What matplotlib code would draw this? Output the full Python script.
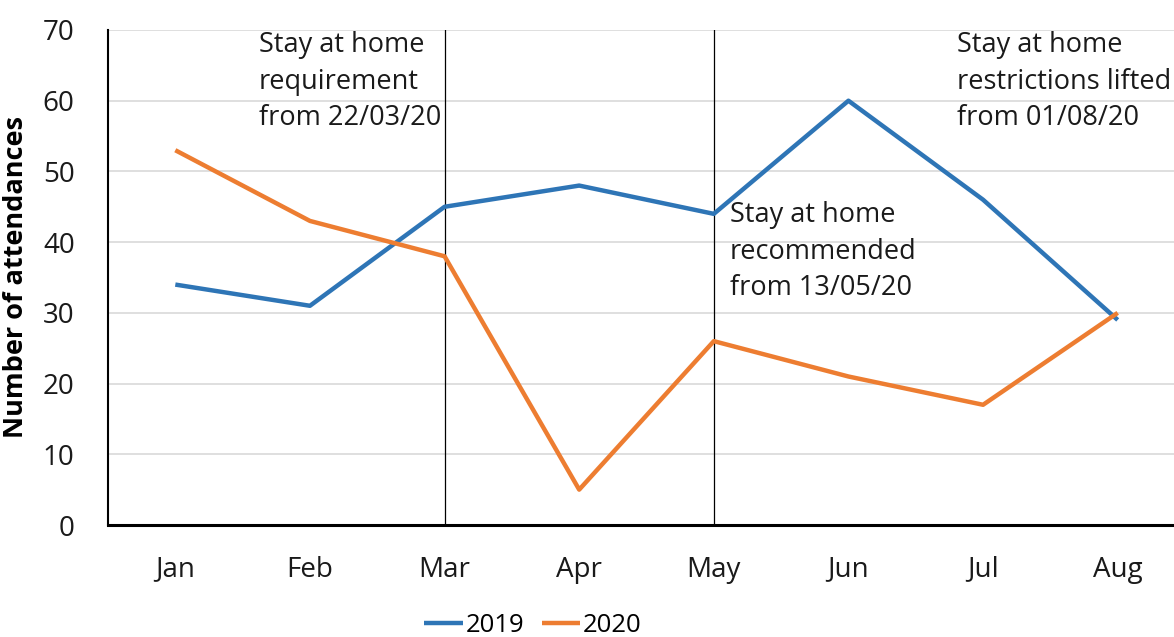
import matplotlib
matplotlib.use("Agg")
import matplotlib.pyplot as plt

plt.rcParams['font.family'] = ['Open Sans', 'DejaVu Sans']

months = ["Jan", "Feb", "Mar", "Apr", "May", "Jun", "Jul", "Aug"]
att_2019 = [34, 31, 45, 48, 44, 60, 46, 29]
att_2020 = [53, 43, 38, 5, 26, 21, 17, 30]
events = ["Mar", "May"]
notes = [
    ("Stay at home\nrequirement\nfrom 22/03/20", 0.62, 69.8),
    ("Stay at home\nrecommended\nfrom 13/05/20", 4.12, 45.8),
    ("Stay at home\nrestrictions lifted\nfrom 01/08/20", 5.81, 69.8),
]

W, H = 1174, 637
fig = plt.figure(figsize=(W / 100, H / 100), dpi=100)
ax = fig.add_axes([108 / W, 1 - 525 / H, (1185 - 108) / W, (525 - 30) / H])

x = list(range(len(months)))
l1, = ax.plot(x, att_2019, color="#2e75b6", lw=3.2, solid_capstyle="butt", label="2019")
l2, = ax.plot(x, att_2020, color="#ed7d31", lw=3.2, solid_capstyle="butt", label="2020")

for ev in events:
    ax.axvline(months.index(ev), color="black", lw=0.9, zorder=1)

for txt, tx, ty in notes:
    ax.text(tx, ty, txt, fontsize=19.5, va="top", ha="left", linespacing=1.4, color="#1a1a1a")

ax.set_xlim(-0.5, len(months) - 0.5)
ax.set_ylim(0, 70)
ax.set_yticks(range(0, 71, 10))
ax.set_xticks(x)
ax.set_xticklabels(months)
ax.grid(axis="y", color="#d9d9d9", lw=1.2)
ax.set_axisbelow(True)
ax.tick_params(axis="both", length=0, labelsize=20, colors="#1a1a1a")
ax.tick_params(axis="y", pad=24)
ax.tick_params(axis="x", pad=22)
for s in ["top", "right"]:
    ax.spines[s].set_visible(False)
ax.spines["left"].set_linewidth(1.5)
ax.spines["bottom"].set_linewidth(2.2)
ax.set_ylabel("Number of attendances", fontsize=19.5, fontweight="bold", labelpad=10)

fig.legend(handles=[l1, l2], loc="center", bbox_to_anchor=(533 / W, 1 - 625 / H),
           ncol=2, frameon=False, fontsize=18.5, handlelength=1.5, handletextpad=0.1,
           columnspacing=0.7)

fig.savefig("out.png", dpi=100)
